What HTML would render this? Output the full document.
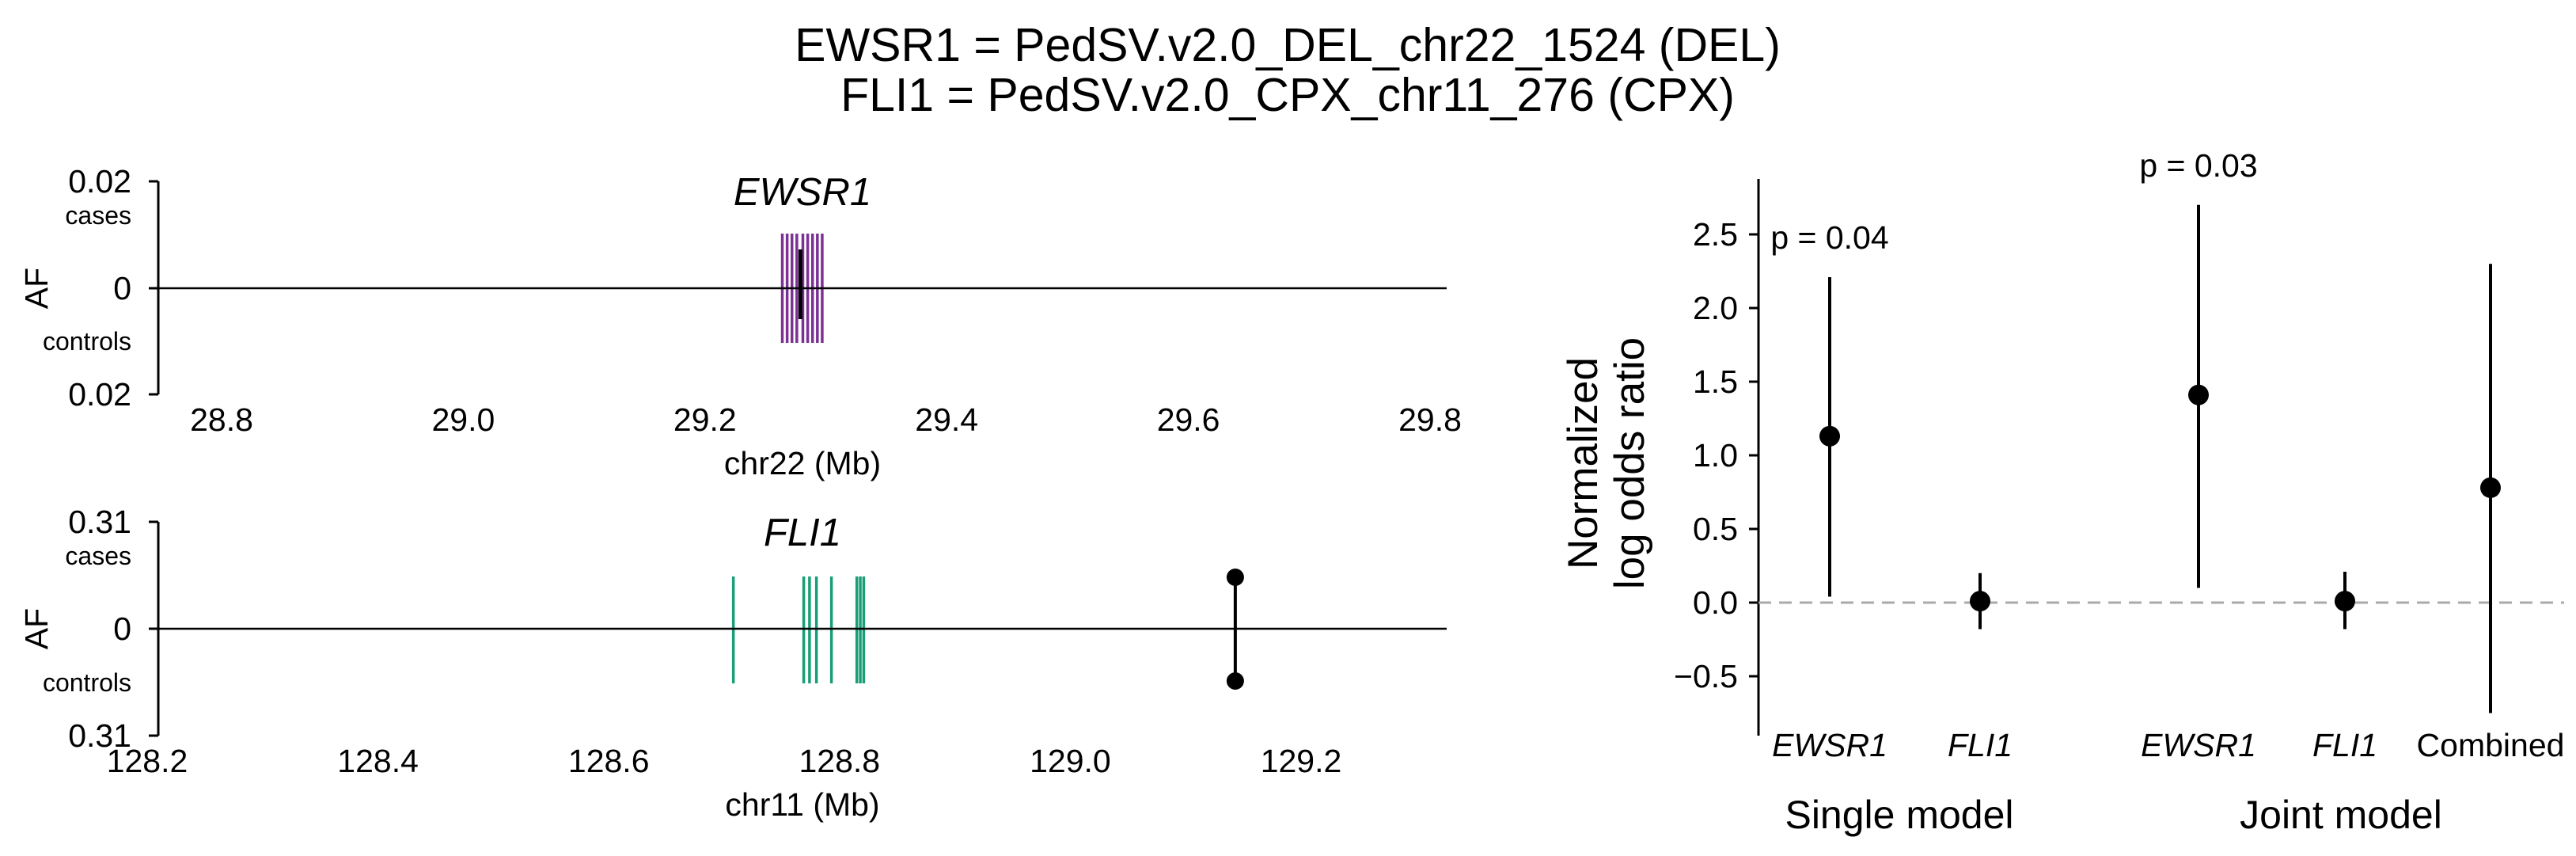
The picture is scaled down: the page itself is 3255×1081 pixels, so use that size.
<!DOCTYPE html>
<html><head><meta charset="utf-8"><style>
body{margin:0;background:#fff}
svg{display:block;font-family:"Liberation Sans",Arial,sans-serif}
</style></head><body>
<svg id="c" width="3255" height="1081" viewBox="0 0 3255 1081">
<text x="1627" y="77" font-size="59" text-anchor="middle">EWSR1 = PedSV.v2.0_DEL_chr22_1524 (DEL)</text>
<text x="1627" y="140" font-size="59" text-anchor="middle">FLI1 = PedSV.v2.0_CPX_chr11_276 (CPX)</text>
<g id="p1"></g>
<g id="p2"></g>
<g id="p3"></g>
</svg>
<script>
const ewsTicks=[28.8,29.0,29.2,29.4,29.6,29.8];
const ewsBars=[29.264,29.268,29.272,29.276,29.281,29.285,29.289,29.293,29.297];
const ewsBlack=[29.279];
const fliTicks=[128.2,128.4,128.6,128.8,129.0,129.2];
const fliBars=[128.708,128.769,128.774,128.780,128.793,128.815,128.818,128.821];
const fliDumbbell=[129.143];
const cats=["EWSR1","FLI1","EWSR1","FLI1","Combined"];
const est=[1.13,0.01,1.41,0.01,0.78];
const lo=[0.04,-0.18,0.10,-0.18,-0.75];
const hi=[2.21,0.20,2.70,0.21,2.30];
const pvals=["p = 0.04","","p = 0.03","",""];
const yTicks=[-0.5,0,0.5,1.0,1.5,2.0,2.5];
const NS="http://www.w3.org/2000/svg";
function mk(p,t,a,txt){const e=document.createElementNS(NS,t);for(const k in a)e.setAttribute(k,a[k]);if(txt!==undefined)e.textContent=txt;p.appendChild(e);return e;}
function genePanel(g,top,zero,bot,ticks,x,bars,color,barTop,barBot,topLbl,title,xlab){
  let e;
  e=mk(g,'line',{x1:200,x2:200,y1:top,y2:bot,stroke:'#000','stroke-width':3});
  
  [[top,topLbl],[zero,'0'],[bot,topLbl]].forEach(([y,l])=>{
    mk(g,'line',{x1:188,x2:200,y1:y,y2:y,stroke:'#000','stroke-width':3});
    e=mk(g,'text',{x:166,y:y+14,'font-size':41,'text-anchor':'end'},l);
    
  });
  e=mk(g,'text',{x:166,y:top+54,'font-size':32,'text-anchor':'end'},'cases');
  
  e=mk(g,'text',{x:166,y:bot-56,'font-size':32,'text-anchor':'end'},'controls');
  
  e=mk(g,'text',{x:0,y:0,'font-size':41,'text-anchor':'middle',transform:`translate(60,${zero}) rotate(-90)`},'AF');
  
  ticks.forEach(t=>{e=mk(g,'text',{x:x(t),y:bot+46,'font-size':41,'text-anchor':'middle'},t.toFixed(1));
    });
  e=mk(g,'text',{x:1014,y:bot+101,'font-size':41,'text-anchor':'middle'},xlab);
  
  e=mk(g,'text',{x:1014,y:top+30,'font-size':49,'text-anchor':'middle','font-style':'italic'},title);
  
  bars.forEach(b=>{e=mk(g,'line',{x1:x(b),x2:x(b),y1:barTop,y2:barBot,stroke:color,'stroke-width':3.5});
    });
  e=mk(g,'line',{x1:200,x2:1828,y1:zero,y2:zero,stroke:'#000','stroke-width':2.5});
  
}
const x1=v=>280+(v-28.8)*1527;
genePanel(document.getElementById('p1'),229,364,498,ewsTicks,x1,ewsBars,'#7b3294',295,433,'0.02','EWSR1','chr22 (Mb)');
const g1=document.getElementById('p1');
ewsBlack.forEach(b=>{const e=mk(g1,'line',{x1:x1(b),x2:x1(b),y1:315,y2:403,stroke:'#000','stroke-width':5});
  });
const x2=v=>186+(v-128.2)*1458;
genePanel(document.getElementById('p2'),659,794,929,fliTicks,x2,fliBars,'#1a9e77',728,863,'0.31','FLI1','chr11 (Mb)');
const g2=document.getElementById('p2');
fliDumbbell.forEach(b=>{let e=mk(g2,'line',{x1:x2(b),x2:x2(b),y1:729,y2:860,stroke:'#000','stroke-width':4});
  
  [729,860].forEach(y=>{e=mk(g2,'circle',{cx:x2(b),cy:y,r:11,fill:'#000'});
  });});
const g3=document.getElementById('p3');
const y=v=>761-v*186;
const catX=[2312,2502,2778,2963,3147];
let e=mk(g3,'line',{x1:2222,x2:2222,y1:226,y2:929,stroke:'#000','stroke-width':3});

yTicks.forEach(t=>{mk(g3,'line',{x1:2210,x2:2222,y1:y(t),y2:y(t),stroke:'#000','stroke-width':3});
  e=mk(g3,'text',{x:2196,y:y(t)+14,'font-size':41,'text-anchor':'end'},(t<0?'\u2212':'')+Math.abs(t).toFixed(1));
  });
e=mk(g3,'line',{x1:2222,x2:3240,y1:y(0),y2:y(0),stroke:'#aaa','stroke-width':3,'stroke-dasharray':'16,10'});

e=mk(g3,'text',{x:0,y:0,'font-size':53,'text-anchor':'middle',transform:'translate(2018,585) rotate(-90)'},'Normalized');

e=mk(g3,'text',{x:0,y:0,'font-size':53,'text-anchor':'middle',transform:'translate(2077,585) rotate(-90)'},'log odds ratio');

cats.forEach((c,i)=>{const cx=catX[i];
  e=mk(g3,'line',{x1:cx,x2:cx,y1:y(lo[i]),y2:y(hi[i]),stroke:'#000','stroke-width':4});
  
  e=mk(g3,'circle',{cx:cx,cy:y(est[i]),r:13,fill:'#000'});
  
  e=mk(g3,'text',{x:cx,y:955,'font-size':41,'text-anchor':'middle','font-style':c==='Combined'?'normal':'italic'},c);
  
  if(pvals[i]){e=mk(g3,'text',{x:cx,y:y(hi[i])-36,'font-size':41,'text-anchor':'middle'},pvals[i]);
    }
});
e=mk(g3,'text',{x:2400,y:1046,'font-size':50,'text-anchor':'middle'},'Single model');

e=mk(g3,'text',{x:2958,y:1046,'font-size':50,'text-anchor':'middle'},'Joint model');

</script>
</body></html>
